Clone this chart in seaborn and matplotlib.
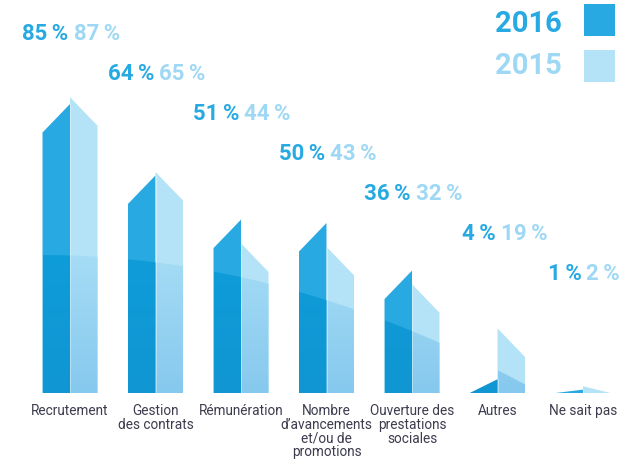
import numpy as np
import pandas as pd
import matplotlib
matplotlib.use("Agg")
import matplotlib.pyplot as plt
import seaborn as sns
from matplotlib.patches import Polygon, Rectangle
from matplotlib.colors import LinearSegmentedColormap

# ---- data ----
categories = ["Recrutement", "Gestion\ndes contrats", "Rémunération",
              "Nombre\nd’avancements\net/ou de\npromotions",
              "Ouverture des\nprestations\nsociales", "Autres", "Ne sait pas"]
values_2016 = [85, 64, 51, 50, 36, 4, 1]
values_2015 = [87, 65, 44, 43, 32, 19, 2]
years = ["2016", "2015"]

df = pd.DataFrame({
    "categorie": categories * 2,
    "annee": [years[0]] * len(categories) + [years[1]] * len(categories),
    "valeur": values_2016 + values_2015,
})

# ---- style ----
sns.set_theme(style="white")
plt.rcParams["font.family"] = ["Roboto", "DejaVu Sans"]

C16_UP, C15_UP = "#29a9e1", "#b4e3f7"
C16_LO_TOP, C16_LO_BOT = "#0e9dd9", "#1096d3"
C15_LO_TOP, C15_LO_BOT = "#a9def6", "#86c9ee"
T16, T15 = "#27a9e1", "#9ed8f4"
TXT = "#3c3c4e"

W, H = 632, 463
PX_PER = 3.4          # pixels per percent
STEP = 85.5           # pixels per category
LEFT = 27.25
fig = plt.figure(figsize=(W / 100, H / 100), dpi=100)
ax = fig.add_axes([LEFT / W, 70 / H, 7 * STEP / W, 380 / H])

sns.barplot(data=df, x="categorie", y="valeur", hue="annee", hue_order=years,
            palette=[C16_UP, C15_UP], width=0.643, gap=0, saturation=1,
            legend=False, ax=ax)

ymax = 380 / PX_PER
drop = 28.5 / PX_PER


def curve(xd):
    xp = LEFT + (xd + 0.5) * STEP
    yp = 255 + 5.5e-4 * (xp - 40) ** 2
    return (393 - yp) / PX_PER


cm16 = LinearSegmentedColormap.from_list("c16", [C16_LO_BOT, C16_LO_TOP])
cm15 = LinearSegmentedColormap.from_list("c15", [C15_LO_BOT, C15_LO_TOP])
grad = np.linspace(0, 1, 256).reshape(-1, 1)

bars = [p for p in ax.patches if isinstance(p, Rectangle)]
for p in bars:
    x0 = p.get_x(); w = p.get_width(); h = p.get_height(); x1 = x0 + w
    xc = x0 + w / 2
    left_bar = xc < round(xc)
    p.set_visible(False)
    side = max(h - drop, 0)
    if left_bar:
        pts = [(x0, 0), (x0, side), (x1, h), (x1, 0)]
        col, cm = C16_UP, cm16
        topf = lambda x: side + (h - side) * (x - x0) / w
    else:
        pts = [(x0, 0), (x0, h), (x1, side), (x1, 0)]
        col, cm = C15_UP, cm15
        topf = lambda x: h + (side - h) * (x - x0) / w
    ax.add_patch(Polygon(pts, closed=True, facecolor=col, edgecolor="none", zorder=2))
    xs = np.linspace(x0, x1, 60)
    tops = np.minimum(topf(xs), curve(xs))
    tops = np.maximum(tops, 0)
    lower = Polygon([(x0, 0)] + list(zip(xs, tops)) + [(x1, 0)], closed=True,
                    facecolor="none", edgecolor="none")
    ax.add_patch(lower)
    im = ax.imshow(grad, extent=[x0, x1, 0, 45], origin="lower", aspect="auto",
                   cmap=cm, zorder=3, interpolation="bilinear")
    im.set_clip_path(lower)

# seams
for i, (a, b) in enumerate(zip(values_2016, values_2015)):
    ax.plot([i, i], [0, min(a, b)], color="white", lw=0.6, alpha=0.45, zorder=4)

ax.set_xlim(-0.5, 6.5)
ax.set_ylim(0, ymax)
ax.set_xlabel(""); ax.set_ylabel("")
ax.set_yticks([])
sns.despine(ax=ax, left=True, bottom=True)
ax.tick_params(axis="x", length=0, pad=8, labelsize=9.8, colors=TXT)
for t in ax.get_xticklabels():
    t.set_multialignment("center")
    t.set_linespacing(0.98)
ax.set_facecolor("none")

# value labels
for i, (a, b) in enumerate(zip(values_2016, values_2015)):
    yb = (393 - (40 + 40 * i)) / PX_PER
    ax.text(i - 1.5 / STEP, yb, f"{a}\u2009%", ha="right", va="baseline",
            color=T16, fontsize=16, fontweight="bold", zorder=5)
    ax.text(i + 3.5 / STEP, yb, f"{b}\u2009%", ha="left", va="baseline",
            color=T15, fontsize=16, fontweight="bold", zorder=5)

# legend
for yr, col, base, sq_top in [(years[0], T16, 32, 4), (years[1], T15, 74, 50)]:
    fig.text(562 / W, 1 - base / H, yr, ha="right", va="baseline", color=col,
             fontsize=21, fontweight="bold")
    fig.add_artist(Rectangle((584 / W, 1 - (sq_top + 32) / H), 31 / W, 32 / H,
                             transform=fig.transFigure,
                             facecolor=C16_UP if yr == years[0] else C15_UP,
                             edgecolor="none"))

fig.savefig("out.png", dpi=100)
